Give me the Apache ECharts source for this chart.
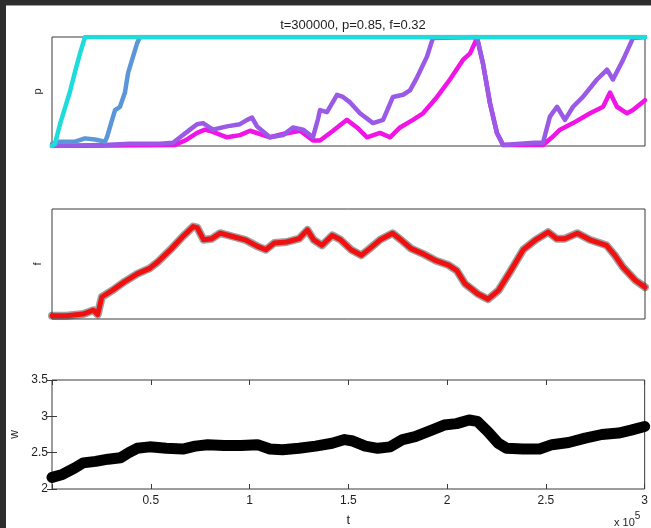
<!DOCTYPE html>
<html>
<head>
<meta charset="utf-8">
<script src="https://cdn.jsdelivr.net/npm/echarts@6.0.0/dist/echarts.min.js"></script>
<style>
  html, body { margin: 0; padding: 0; background: #ffffff; }
  #chart { width: 651px; height: 528px; }
</style>
</head>
<body>
<div id="chart"></div>
<script>
// ---- p panel: fraction for each of the four groups over time t ----
const tCyan = [0, 1500, 4050, 6580, 9110, 11640, 14170, 16700, 300000];
const pCyan = [0, 0.02, 0.20, 0.35, 0.50, 0.68, 0.85, 1.0, 1.0];

const tBlue = [0, 4050, 11640, 16700, 21760, 26800, 27800, 30400, 31900, 34400, 36900, 38500, 40500, 43000, 44500, 300000];
const pBlue = [0.02, 0.04, 0.04, 0.07, 0.06, 0.04, 0.08, 0.24, 0.33, 0.36, 0.49, 0.67, 0.79, 0.94, 1.0, 1.0];

const tPurple = [0, 26300, 39500, 54600, 61200, 64800, 69800, 73400, 76400, 81400, 88500, 95100, 98700, 101200, 103700,
  110300, 116900, 121900, 127000, 132000, 134600, 135600, 139100, 144200, 147200, 150800, 155800, 162400, 167500,
  172500, 177600, 181100, 184700, 189700, 192700, 215000, 218000, 221600, 225100, 228200, 236800, 244300, 248400,
  251900, 255500, 259500, 263600, 268600, 275700, 280800, 283800, 288900, 293900, 300000];
const pPurple = [0, 0.01, 0.02, 0.02, 0.03, 0.08, 0.15, 0.20, 0.21, 0.15, 0.18, 0.20, 0.24, 0.26, 0.18,
  0.08, 0.10, 0.17, 0.15, 0.08, 0.25, 0.33, 0.31, 0.47, 0.45, 0.40, 0.30, 0.21, 0.24,
  0.45, 0.47, 0.51, 0.63, 0.82, 0.99, 1.0, 0.76, 0.39, 0.12, 0.01, 0.02, 0.03, 0.03,
  0.27, 0.36, 0.24, 0.36, 0.45, 0.61, 0.70, 0.61, 0.79, 0.99, 1.0];

const tMagenta = [0, 62200, 67300, 73400, 77400, 81400, 88500, 95100, 100200, 110300, 116900, 125500, 132000, 135600,
  142200, 149200, 154300, 159400, 165900, 171000, 176100, 182600, 187700, 194800, 201300, 207900, 211500, 215000,
  218000, 221600, 225100, 228200, 248400, 253000, 257000, 263600, 272200, 278800, 282300, 285800, 290900, 293900, 300000];
const pMagenta = [0, 0.01, 0.05, 0.12, 0.15, 0.13, 0.08, 0.10, 0.14, 0.08, 0.11, 0.14, 0.05, 0.05,
  0.14, 0.24, 0.17, 0.08, 0.12, 0.08, 0.17, 0.24, 0.30, 0.45, 0.61, 0.79, 0.85, 0.99,
  0.76, 0.39, 0.12, 0.01, 0.01, 0.08, 0.15, 0.21, 0.30, 0.36, 0.49, 0.36, 0.30, 0.33, 0.42];

// ---- f panel (unscaled, 0 = bottom of box, 1 = top) ----
const tF = [0, 7400, 15800, 21000, 23100, 25200, 30500, 36800, 43100, 49400, 53600, 59900, 66200, 71400, 73500,
  76700, 80900, 85100, 91400, 97700, 104000, 108200, 112400, 118700, 125000, 129200, 132400, 136600, 141800,
  146000, 151300, 156500, 160700, 166000, 172300, 176500, 181700, 188000, 194300, 200600, 204800, 209000,
  215300, 220600, 225900, 232100, 238400, 244700, 251000, 255300, 259400, 265800, 272100, 280500, 284700,
  288900, 295200, 300000];
const fVals = [0.03, 0.03, 0.045, 0.08, 0.04, 0.20, 0.26, 0.34, 0.41, 0.46, 0.52, 0.63, 0.75, 0.84, 0.83,
  0.72, 0.73, 0.78, 0.75, 0.72, 0.66, 0.63, 0.69, 0.70, 0.73, 0.81, 0.72, 0.67, 0.76,
  0.72, 0.63, 0.58, 0.64, 0.72, 0.78, 0.72, 0.64, 0.59, 0.53, 0.49, 0.44, 0.32,
  0.23, 0.18, 0.26, 0.44, 0.63, 0.72, 0.79, 0.73, 0.73, 0.78, 0.72, 0.67, 0.58,
  0.47, 0.35, 0.29];

// ---- w panel ----
const tW = [0, 5300, 11600, 15800, 22100, 28400, 34700, 38900, 43100, 49400, 57800, 66200, 72500, 78800, 87200,
  95600, 104000, 110300, 116600, 125000, 133400, 141800, 148100, 152300, 158600, 164900, 171200, 177500,
  183800, 192200, 198500, 204800, 211100, 215300, 220600, 225900, 230100, 238400, 246800, 253100, 261500,
  269900, 278300, 286800, 293100, 300000];
const wVals = [2.16, 2.20, 2.29, 2.36, 2.38, 2.41, 2.43, 2.50, 2.56, 2.58, 2.56, 2.55, 2.59, 2.61, 2.60,
  2.60, 2.61, 2.55, 2.54, 2.56, 2.59, 2.63, 2.68, 2.66, 2.59, 2.56, 2.58, 2.68,
  2.72, 2.81, 2.88, 2.90, 2.95, 2.93, 2.79, 2.63, 2.56, 2.55, 2.55, 2.61, 2.64,
  2.70, 2.75, 2.77, 2.81, 2.86];

const wTicks = [2, 2.5, 3, 3.5];
const titleText = 't=300000, p=0.85, f=0.32';

function pairs(t, v) { return t.map((x, i) => [x, v[i]]); }

const FONT = "'Liberation Sans', Arial, sans-serif";
const TXT = '#1e1e1e';
const gridBase = { left: 52, width: 593, show: true, borderColor: '#3a3a3a', borderWidth: 1, backgroundColor: '#fff' };

function bareX(gi) {
  return { type: 'value', gridIndex: gi, min: 0, max: 300000, show: true,
    axisLine: { show: false }, axisTick: { show: false }, axisLabel: { show: false }, splitLine: { show: false } };
}
function bareY(gi, name, min, max) {
  return { type: 'value', gridIndex: gi, min: min, max: max, name: name, nameLocation: 'middle', nameGap: 9,
    nameRotate: 90, nameTextStyle: { fontFamily: FONT, fontSize: 11, color: TXT },
    axisLine: { show: false }, axisTick: { show: false }, axisLabel: { show: false }, splitLine: { show: false } };
}
function line(xi, yi, data, color, width, z, opacity) {
  return { type: 'line', xAxisIndex: xi, yAxisIndex: yi, data: data, showSymbol: false, symbol: 'none',
    animation: false, clip: true, z: z,
    lineStyle: { color: color, width: width, opacity: opacity == null ? 1 : opacity, join: 'round', cap: 'round' } };
}

const chart = echarts.init(document.getElementById('chart'), null, { renderer: 'canvas' });

chart.setOption({
  backgroundColor: '#ffffff',
  animation: false,
  title: {
    text: titleText, left: 348, top: 14, textAlign: 'center',
    textStyle: { fontFamily: FONT, fontSize: 13, fontWeight: 'normal', color: TXT }
  },
  grid: [
    Object.assign({ top: 37, height: 109 }, gridBase),
    Object.assign({ top: 209, height: 110 }, gridBase),
    Object.assign({ top: 380, height: 110 }, gridBase)
  ],
  xAxis: [
    bareX(0),
    bareX(1),
    { type: 'value', gridIndex: 2, min: 0, max: 300000, interval: 50000, position: 'bottom',
      name: 't', nameLocation: 'middle', nameGap: 25,
      nameTextStyle: { fontFamily: FONT, fontSize: 13, color: TXT },
      axisLine: { show: false },
      axisTick: { show: true, inside: true, length: 5, lineStyle: { color: '#3a3a3a' } },
      axisLabel: { fontFamily: FONT, fontSize: 12, color: TXT, margin: 6,
        formatter: v => (v === 0 ? '' : String(v / 100000)) },
      splitLine: { show: false } },
    { type: 'value', gridIndex: 2, min: 0, max: 300000, interval: 50000, position: 'top',
      axisLine: { show: false },
      axisTick: { show: true, inside: true, length: 5, lineStyle: { color: '#3a3a3a' } },
      axisLabel: { show: false }, splitLine: { show: false } }
  ],
  yAxis: [
    bareY(0, 'p', 0, 1),
    bareY(1, 'f', 0, 1),
    { type: 'value', gridIndex: 2, min: wTicks[0], max: wTicks[wTicks.length - 1], interval: 0.5, position: 'left',
      name: 'w', nameLocation: 'middle', nameGap: 14, nameRotate: 90,
      nameTextStyle: { fontFamily: FONT, fontSize: 12, color: TXT },
      axisLine: { show: false },
      axisTick: { show: true, inside: true, length: 5, lineStyle: { color: '#3a3a3a' } },
      axisLabel: { fontFamily: FONT, fontSize: 12, color: TXT, margin: 4 },
      splitLine: { show: false } },
    { type: 'value', gridIndex: 2, min: wTicks[0], max: wTicks[wTicks.length - 1], interval: 0.5, position: 'right',
      axisLine: { show: false },
      axisTick: { show: true, inside: true, length: 5, lineStyle: { color: '#3a3a3a' } },
      axisLabel: { show: false }, splitLine: { show: false } }
  ],
  series: [
    line(0, 0, pairs(tMagenta, pMagenta), '#f014e6', 4.5, 2),
    line(0, 0, pairs(tPurple, pPurple), '#9a5ae6', 4.5, 3),
    line(0, 0, pairs(tBlue, pBlue), '#5b97d8', 4.5, 4),
    line(0, 0, pairs(tCyan, pCyan), '#1fdcdc', 4.5, 5),
    line(1, 1, pairs(tF, fVals), '#111111', 8, 2, 0.4),
    line(1, 1, pairs(tF, fVals), '#f01010', 5, 3),
    line(2, 2, pairs(tW, wVals), '#000000', 11, 2)
  ],
  graphic: [
    { type: 'rect', left: 0, top: 0, z: 100, shape: { width: 651, height: 5 }, style: { fill: '#2d2d2d' } },
    { type: 'rect', left: 0, top: 5, z: 100, shape: { width: 651, height: 1 }, style: { fill: '#66c466' } },
    { type: 'rect', left: 0, top: 0, z: 101, shape: { width: 6, height: 528 }, style: { fill: '#2d2d2d' } },
    { type: 'text', left: 614, top: 511, z: 50,
      style: { text: '{a|x 10}{s|5}', fontFamily: FONT,
        rich: { a: { fontSize: 11, fill: TXT, fontFamily: FONT, padding: [6, 0, 0, 0] },
                s: { fontSize: 10, fill: TXT, fontFamily: FONT, verticalAlign: 'top' } } } }
  ]
});
</script>
</body>
</html>
